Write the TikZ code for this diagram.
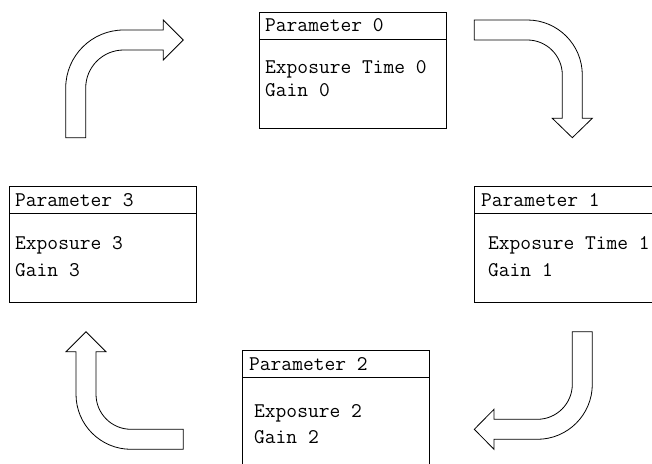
\documentclass[tikz,border=0pt]{standalone}
\usepackage{fontspec}
\usepackage{tikz}
\usetikzlibrary{positioning}

\begin{document}
\begin{tikzpicture}[x=1pt,y=1pt,
          parbox/.style={draw,line width=0.9pt,minimum width=187pt,minimum height=116pt,anchor=north west,inner sep=0pt},
          partext/.style={anchor=base west,inner sep=0pt,font=\ttfamily\fontsize{20.9}{24}\selectfont},
          blockarrow/.style={draw,line width=0.8pt,line join=miter}
        ]
        \useasboundingbox (0,0) rectangle (652,463);
        \clip (0,0) rectangle (652,463);
        % boxes
        \node[parbox] (p0) at (259,451) {};
        \node[parbox] (p1) at (474,277) {};
        \node[parbox] (p2) at (242,113) {};
        \node[parbox] (p3) at (9,277) {};
        \foreach \b in {p0,p1,p2,p3}
          \draw[line width=0.9pt] ([yshift=-27pt]\b.north west) -- ([yshift=-27pt]\b.north east);
        % texts
        \node[partext] (p0title) at (265,431) {Parameter 0};
        \node[partext] (p0exp) at (265,389) {Exposure Time 0};
        \node[partext] (p0gain) at (265,366) {Gain 0};
        \node[partext] (p1title) at (481,256) {Parameter 1};
        \node[partext] (p1exp) at (488,213) {Exposure Time 1};
        \node[partext] (p1gain) at (488,186) {Gain 1};
        \node[partext] (p2title) at (249,93) {Parameter 2};
        \node[partext] (p2exp) at (254,46) {Exposure 2};
        \node[partext] (p2gain) at (254,20) {Gain 2};
        \node[partext] (p3title) at (15,256) {Parameter 3};
        \node[partext] (p3exp) at (15,213) {Exposure 3};
        \node[partext] (p3gain) at (15,186) {Gain 3};
        % bent arrows
        \draw[blockarrow] (65.7,325.3) -- (65.7,375) arc (180:90:58) -- (163.3,433) -- (163.3,443)
          -- (183.3,423) -- (163.3,403) -- (163.3,413) -- (123.7,413) arc (90:180:38) -- (85.7,325.3) -- cycle;
        \draw[blockarrow] (474.3,443) -- (527.3,443) arc (90:0:55) -- (582.3,344.7) -- (592.3,344.7)
          -- (572.3,325.3) -- (552.3,344.7) -- (562.3,344.7) -- (562.3,388) arc (0:90:35) -- (474.3,423) -- cycle;
        \draw[blockarrow] (592.3,131.3) -- (592.3,78.7) arc (0:-90:55) -- (494,23.7) -- (494,13.7)
          -- (474.3,33.7) -- (494,53.7) -- (494,43.7) -- (537.3,43.7) arc (-90:0:35) -- (572.3,131.3) -- cycle;
        \draw[blockarrow] (183.3,13.7) -- (131,13.7) arc (-90:-180:55) -- (76,111.3) -- (66,111.3)
          -- (86,131.3) -- (106,111.3) -- (96,111.3) -- (96,68.7) arc (180:270:35) -- (183.3,33.7) -- cycle;
      \end{tikzpicture}
\end{document}
